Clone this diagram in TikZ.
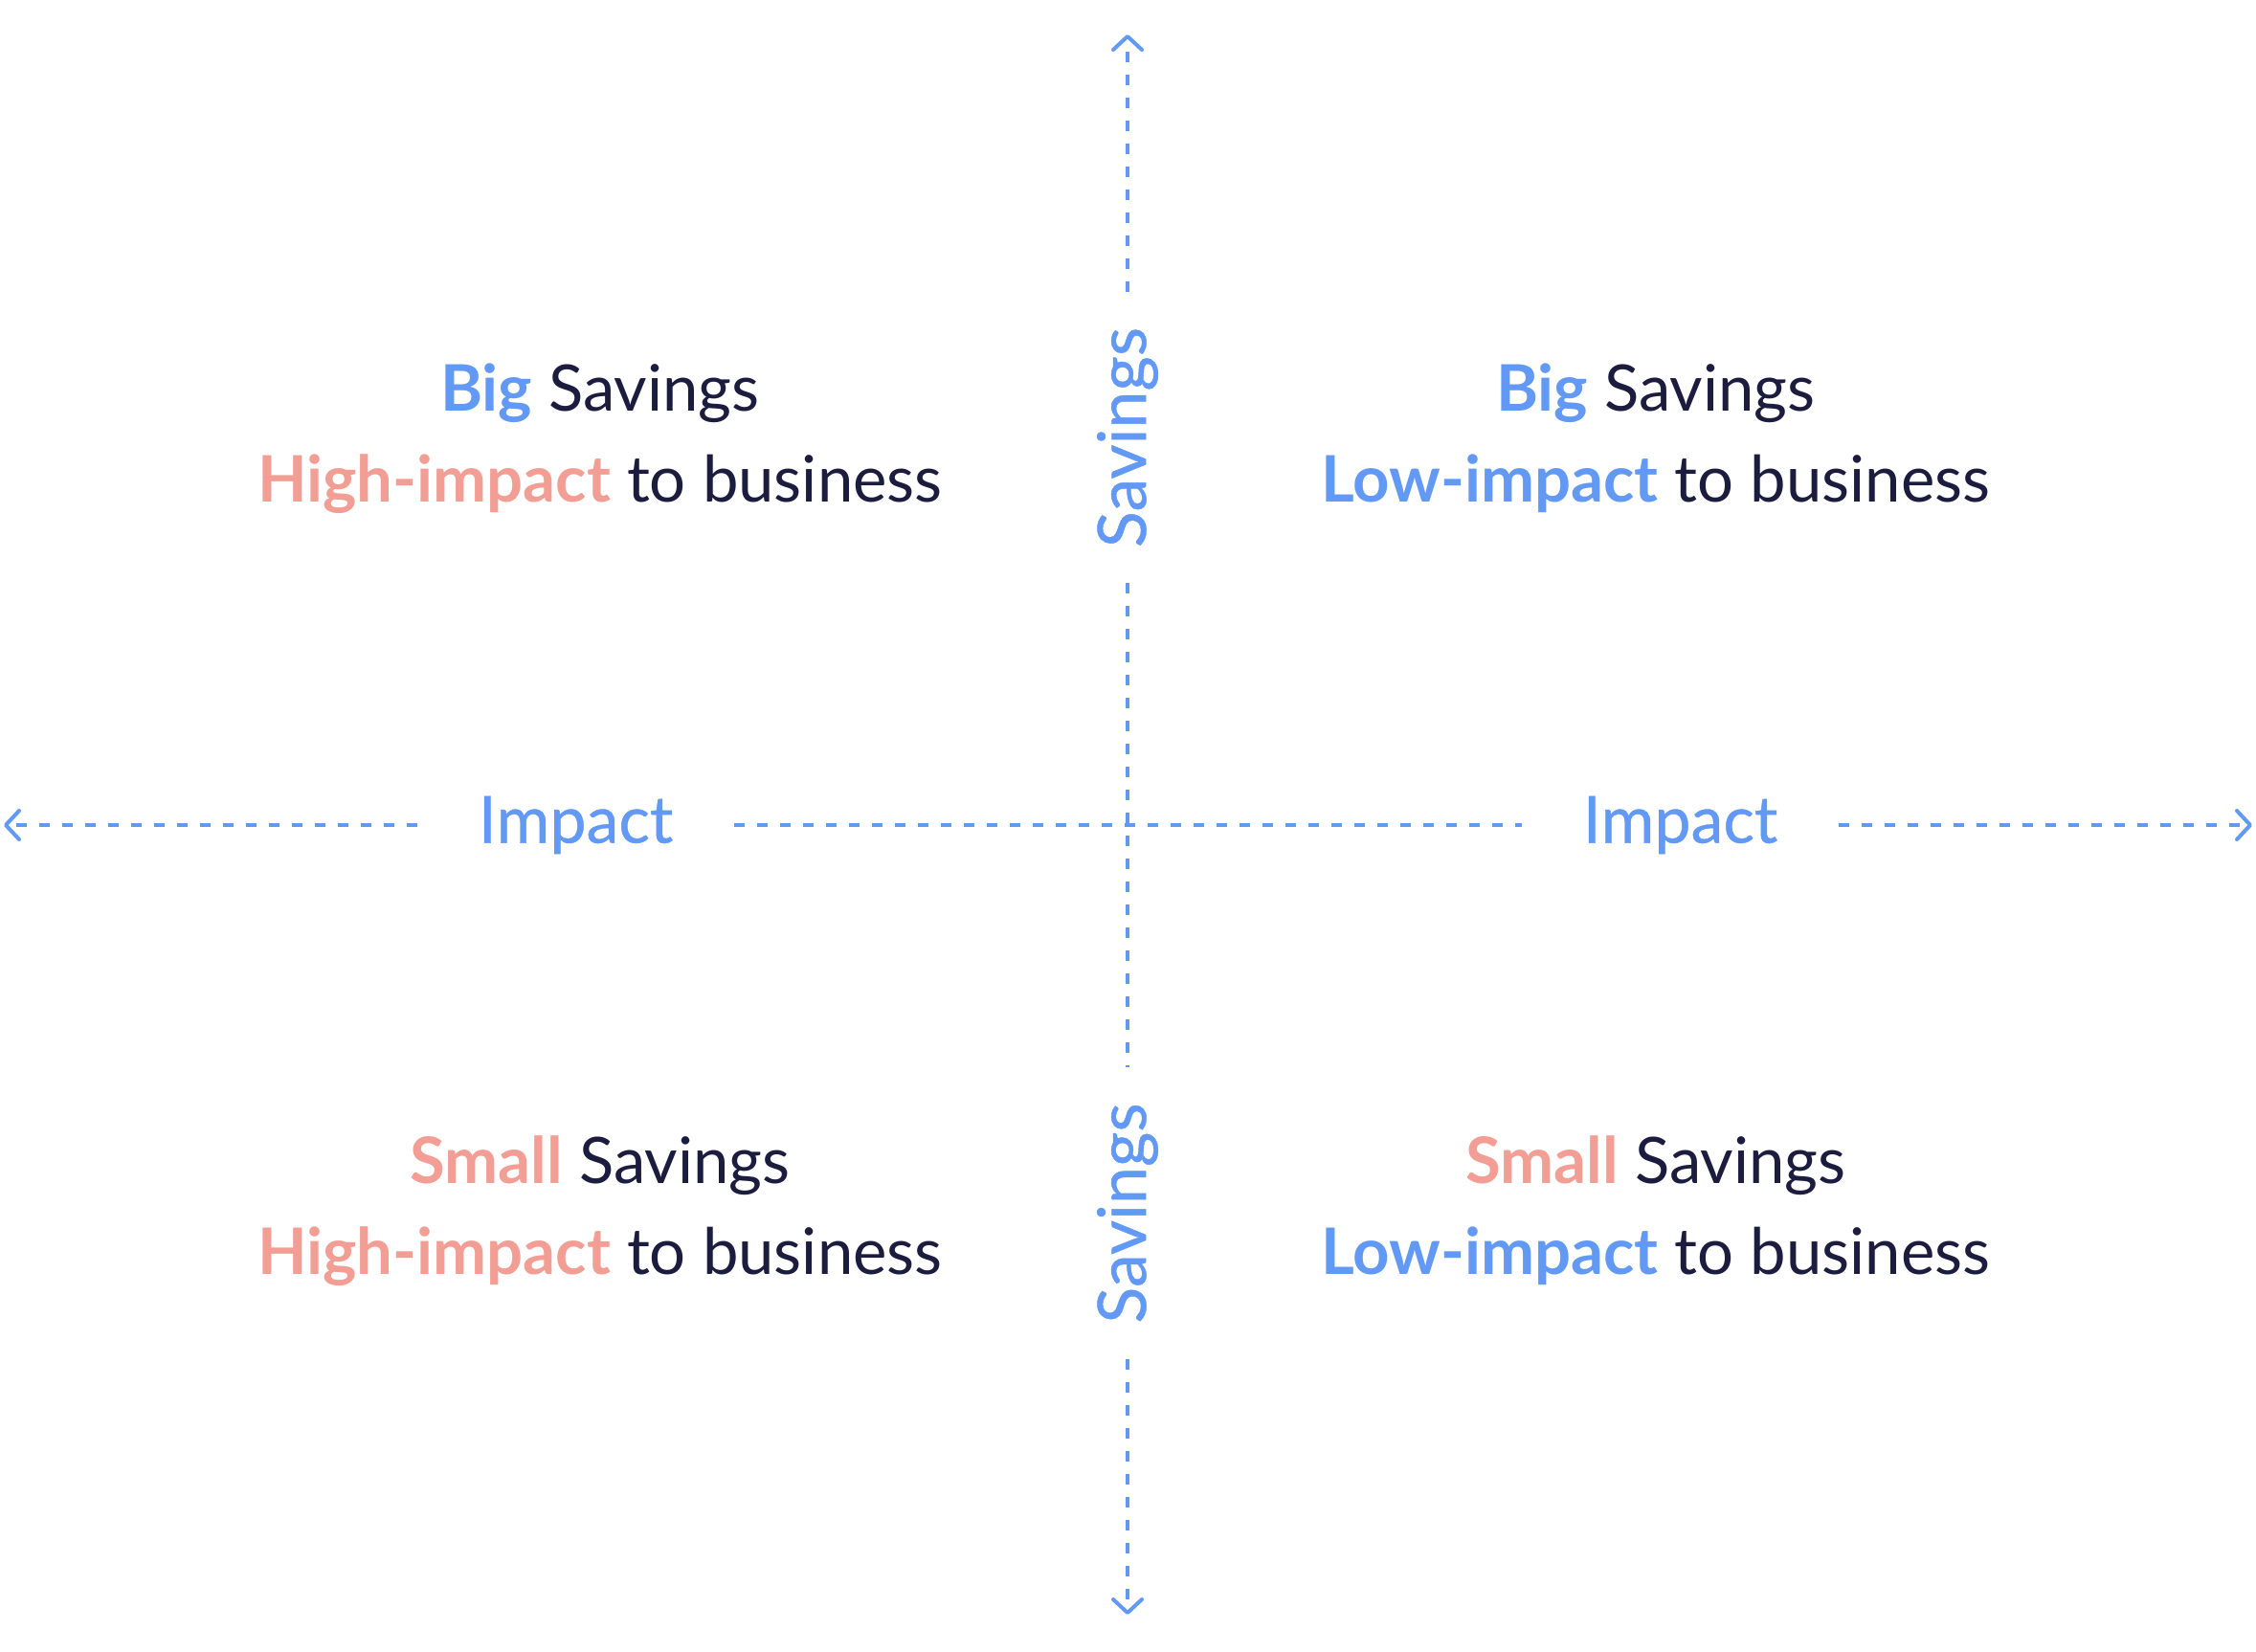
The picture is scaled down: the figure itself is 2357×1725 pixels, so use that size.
\documentclass[tikz,border=0pt]{standalone}
\usepackage{fontspec}
\setmainfont{Lato}
\newfontfamily\labfont[FakeBold=0.6]{Lato}
\usetikzlibrary{arrows.meta}
\definecolor{axblue}{HTML}{6299F5}
\definecolor{softpink}{HTML}{F29E94}
\definecolor{navy}{HTML}{1B1C3E}
\tikzset{
  axis/.style={draw=axblue, line width=4pt, dash pattern=on 11pt off 13pt},
  tipend/.style={-{Straight Barb[length=14pt,width=30pt,line width=4pt,round]}},
  quad/.style={anchor=base, text=navy, inner sep=0pt, font=\fontsize{67}{80}\selectfont},
  implabel/.style={text=axblue, inner sep=0pt, minimum width=331pt, minimum height=60pt, font=\labfont\fontsize{68}{80}\selectfont},
  savlabel/.style={text=axblue, inner sep=0pt, rotate=90, minimum width=304pt, minimum height=60pt, font=\labfont\fontsize{70}{80}\selectfont},
}
\newcommand{\hb}[1]{\textcolor{axblue}{\textbf{#1}}}
\newcommand{\hp}[1]{\textcolor{softpink}{\textbf{#1}}}
\begin{document}
\begin{tikzpicture}[x=1pt,y=1pt]
\useasboundingbox (0,0) rectangle (2357,-1725);
\coordinate (top) at (1178,-36);
\coordinate (bot) at (1178,-1687);
\coordinate (lft) at (4,-862);
\coordinate (rgt) at (2353,-862);
\node[savlabel] (savT) at (1178,-457) {Savings};
\node[savlabel] (savB) at (1178,-1267.5) {Savings};
\node[implabel] (impL) at (601.5,-862) {Impact};
\node[implabel] (impR) at (1755.5,-862) {Impact};
\draw[axis,tipend] (savT) -- (top);
\draw[axis] (savT) -- (savB);
\draw[axis,tipend] (savB) -- (bot);
\draw[axis,tipend] (impL) -- (lft);
\draw[axis] (impL) -- (impR);
\draw[axis,tipend] (impR) -- (rgt);
\node[quad] (q1a) at (627,-429) {\hb{Big} Savings};
\node[quad] (q1b) at (627,-524) {\hp{High-impact} to business};
\node[quad] (q2a) at (1730,-429) {\hb{Big} Savings};
\node[quad] (q2b) at (1730,-524) {\hb{Low-impact} to business};
\node[quad] (q3a) at (627,-1236) {\hp{Small} Savings};
\node[quad] (q3b) at (627,-1331) {\hp{High-impact} to business};
\node[quad] (q4a) at (1730,-1236) {\hp{Small} Savings};
\node[quad] (q4b) at (1730,-1331) {\hb{Low-impact} to business};
\end{tikzpicture}
\end{document}
